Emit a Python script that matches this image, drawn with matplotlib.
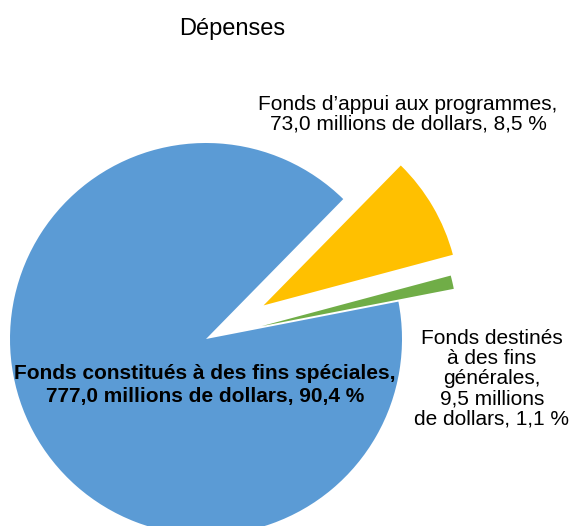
import matplotlib
matplotlib.use('Agg')
import matplotlib.pyplot as plt

plt.rcParams['font.family'] = ['Liberation Sans', 'DejaVu Sans']

# données
categories = ['Fonds constitués à des fins spéciales',
              "Fonds d’appui aux programmes",
              'Fonds destinés à des fins générales']
montants = [777.0, 73.0, 9.5]          # millions de dollars
pourcentages = ['90,4 %', '8,5 %', '1,1 %']
couleurs = ['#5B9BD5', '#FFC000', '#70AD47']
ecarts = [0.0, 0.34, 0.29]

W, H = 574, 526
fig = plt.figure(figsize=(W / 100, H / 100), dpi=100)
ax = fig.add_axes([0, 0, 1, 1])

# centre du camembert en pixels et rayon
cx, cy, r = 206, 339, 196
ax.pie(montants, colors=couleurs, explode=ecarts, startangle=11,
       counterclock=False, radius=1, wedgeprops=dict(linewidth=0))
ax.set_xlim(-cx / r, (W - cx) / r)
ax.set_ylim(-(H - cy) / r, cy / r)
ax.set_aspect('auto')
ax.axis('off')


def px(x, y):
    return x / W, 1 - y / H


fig.text(*px(232, 29), 'Dépenses', fontsize=17, ha='center', va='center')

fig.text(*px(408, 114),
         "Fonds d’appui aux programmes,\n73,0 millions de dollars, "
         + pourcentages[1],
         fontsize=15, ha='center', va='center', linespacing=1.05)

fig.text(*px(205, 385),
         'Fonds constitués à des fins spéciales,\n777,0 millions de dollars, '
         + pourcentages[0],
         fontsize=15, fontweight='bold', ha='center', va='center',
         linespacing=1.3)

fig.text(*px(492, 379),
         'Fonds destinés\nà des fins\ngénérales,\n9,5 millions\n'
         'de dollars, ' + pourcentages[2],
         fontsize=15, ha='center', va='center', linespacing=1.07)

fig.savefig('out.png', dpi=100)
